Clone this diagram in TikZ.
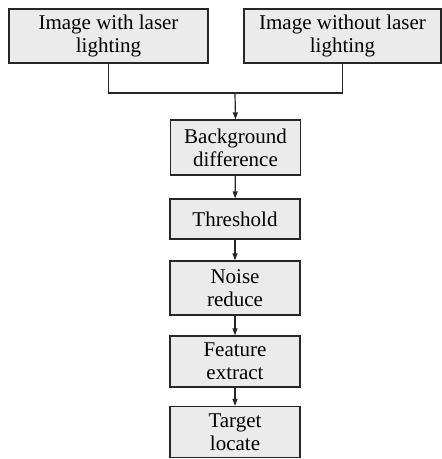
\documentclass[tikz,border=0pt]{standalone}
\usepackage{fontspec}
\setmainfont{Liberation Serif}
\usetikzlibrary{arrows.meta}
\begin{document}
\begin{tikzpicture}[x=1pt,y=-1pt,
  box/.style={draw=black!85,line width=1.3pt,fill=black!8,inner sep=0pt,align=center,
    font=\fontsize{21}{23}\selectfont,minimum width=130pt},
  conn/.style={draw=black!85,line width=1.2pt},
  arr/.style={conn,-{Triangle[length=7pt,width=5pt]}}]
\useasboundingbox (0,0) rectangle (442,459);
\node[box,minimum width=199pt,minimum height=54pt] (b1) at (108.5,36) {Image with laser\\lighting};
\node[box,minimum width=197pt,minimum height=54pt] (b2) at (342.5,36) {Image without laser\\lighting};
\node[box,minimum height=55pt] (bg) at (235.5,147.5) {Background\\difference};
\node[box,minimum height=40pt] (th) at (235,219) {Threshold};
\node[box,minimum height=54pt] (nr) at (235,288) {Noise\\reduce};
\node[box,minimum height=51pt] (fe) at (235,361.5) {Feature\\extract};
\node[box,minimum height=51pt] (tl) at (235,432) {Target\\locate};
\coordinate (j) at (235,93);
\draw[conn] (b1.south) |- (j) -| (b2.south);
\draw[arr] (j) -- (bg.north);
\draw[arr] (bg) -- (th);
\draw[arr] (th) -- (nr);
\draw[arr] (nr) -- (fe);
\draw[arr] (fe) -- (tl);
\end{tikzpicture}
\end{document}
